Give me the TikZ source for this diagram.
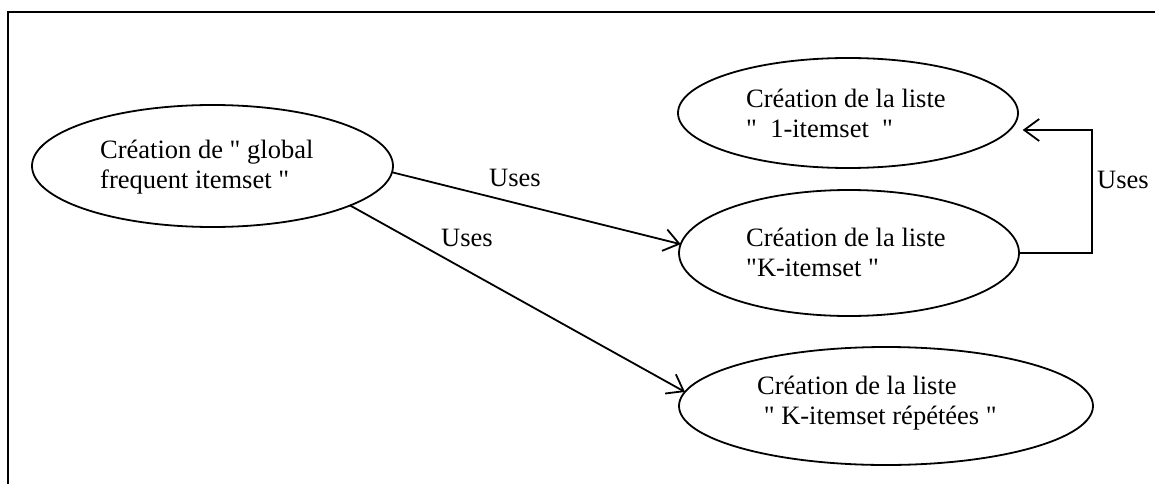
\documentclass[tikz,border=0pt]{standalone}
\usepackage{fontspec}
\newfontfamily\capfont{Liberation Serif}
\usetikzlibrary{shapes.geometric,arrows.meta}
\begin{document}
\begin{tikzpicture}[x=1pt,y=-1pt,
  usecase/.style={draw,ellipse,line width=1.8pt,inner sep=0pt,outer sep=0pt},
  caption/.style={anchor=base west,inner sep=0pt,align=left,
    font=\capfont\fontsize{26.5}{30}\selectfont},
  uses/.style={line width=1.8pt,-{Straight Barb[length=15pt,width=22pt,line width=1.8pt]}},
  lbl/.style={inner sep=0pt,font=\capfont\fontsize{26.5}{30}\selectfont}]
\useasboundingbox (0,0) rectangle (1155,484);
% open frame
\draw[line width=1.6pt] (8,484) -- (8,12) -- (1155,12);

% use cases
\node[usecase,minimum width=361pt,minimum height=122pt] (e1) at (212.5,166) {};
\node[usecase,minimum width=340pt,minimum height=110pt] (e2) at (848,113) {};
\node[usecase,minimum width=340pt,minimum height=126pt] (e3) at (849,253) {};
\node[usecase,minimum width=414pt,minimum height=118pt] (e4) at (886,406) {};

% captions (anchor is the baseline of the last line)
\node[caption] (t1) at (100,188) {Création de " global\\frequent itemset "};
\node[caption] (t2) at (746,137) {Création de la liste\\"\ \ 1-itemset\ \ "};
\node[caption] (t3) at (746,276) {Création de la liste\\"K-itemset "};
\node[caption] (t4) at (757,424) {Création de la liste\\\ " K-itemset répétées "};

% relations
\coordinate (turn) at (1092,130);
\coordinate (e2in) at ([xshift=13pt]e2.-6);
\draw[uses] (e1.-2) -- (e3.177);
\draw[uses] (e1.-16) -- (e4.176);
\draw[uses] (e3.east) -| (turn) -- (turn -| e2in);

\node[lbl] (u1) at (515,178) {Uses};
\node[lbl] (u2) at (467,238) {Uses};
\node[lbl,anchor=west] (u3) at (1097,180) {Uses};
\end{tikzpicture}
\end{document}
